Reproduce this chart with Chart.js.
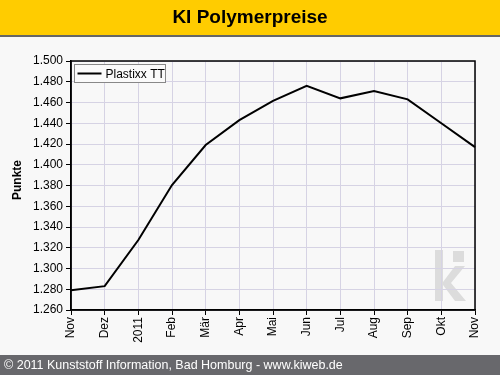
<!DOCTYPE html>
<html><head><meta charset="utf-8">
<script src="https://cdn.jsdelivr.net/npm/chart.js@4/dist/chart.umd.min.js"></script>
<style>
html,body{margin:0;padding:0;background:#f8f8f8;}
#wrap{position:relative;width:500px;height:375px;}
canvas{display:block;}
</style></head>
<body><div id="wrap"><canvas id="c" width="500" height="375"></canvas></div>
<script>
const chartTitle = "KI Polymerpreise";
const footerText = "© 2011 Kunststoff Information, Bad Homburg - www.kiweb.de";
const yAxisTitle = "Punkte";
const seriesName = "Plastixx TT";
const categories = ["Nov","Dez","2011","Feb","Mär","Apr","Mai","Jun","Jul","Aug","Sep","Okt","Nov"];
const values = [1279, 1283, 1327.5, 1380.5, 1419, 1443, 1461.5, 1476, 1464, 1471, 1463, 1440, 1417];
const yMin = 1260, yMax = 1500, yStep = 20;

const FONT = "'Liberation Sans', Arial, sans-serif";

const decor = {
  id: 'decor',
  beforeDraw(chart) {
    const ctx = chart.ctx, a = chart.chartArea;
    ctx.save();
    ctx.fillStyle = '#f8f8f8';
    ctx.fillRect(0, 0, 500, 375);
    // title bar
    ctx.fillStyle = '#ffcc00';
    ctx.fillRect(0, 0, 500, 35);
    ctx.fillStyle = '#666666';
    ctx.fillRect(0, 35, 500, 2);
    ctx.fillStyle = '#000';
    ctx.font = "bold 19px " + FONT;
    ctx.textAlign = 'center';
    ctx.textBaseline = 'middle';
    ctx.fillText(chartTitle, 250, 18);
    // footer
    ctx.fillStyle = '#68686c';
    ctx.fillRect(0, 355, 500, 20);
    ctx.fillStyle = '#fff';
    ctx.font = "12.5px " + FONT;
    ctx.textAlign = 'left';
    ctx.fillText(footerText, 4, 366);
    // y axis title
    ctx.save();
    ctx.translate(18, 180);
    ctx.rotate(-Math.PI / 2);
    ctx.fillStyle = '#000';
    ctx.font = "bold 12px " + FONT;
    ctx.textAlign = 'center';
    ctx.textBaseline = 'middle';
    ctx.fillText(yAxisTitle, 0, 0);
    ctx.restore();
    // watermark "ki"
    ctx.fillStyle = '#dcdcdc';
    ctx.fillRect(435, 250, 8, 51);
    ctx.fillRect(453, 251, 11, 11);
    ctx.beginPath();
    ctx.moveTo(443, 282);
    ctx.lineTo(455, 266);
    ctx.lineTo(465, 266);
    ctx.lineTo(451, 283);
    ctx.lineTo(466, 301);
    ctx.lineTo(455, 301);
    ctx.lineTo(443, 285);
    ctx.closePath();
    ctx.fill();
    ctx.restore();
  },
  afterDatasetsDraw(chart) {
    const ctx = chart.ctx, a = chart.chartArea;
    ctx.save();
    // frame
    ctx.strokeStyle = '#000';
    ctx.lineWidth = 1.5;
    ctx.strokeRect(a.left, a.top, a.right - a.left, a.bottom - a.top);
    // legend
    const lx = a.left + 3.5, ly = a.top + 3.5, lw = 91, lh = 18;
    ctx.fillStyle = '#fafafa';
    ctx.fillRect(lx, ly, lw, lh);
    ctx.strokeStyle = '#888';
    ctx.lineWidth = 1;
    ctx.strokeRect(lx, ly, lw, lh);
    ctx.strokeStyle = '#000';
    ctx.lineWidth = 2;
    ctx.beginPath();
    ctx.moveTo(lx + 3, ly + lh / 2);
    ctx.lineTo(lx + 27, ly + lh / 2);
    ctx.stroke();
    ctx.fillStyle = '#000';
    ctx.font = "12px " + FONT;
    ctx.textAlign = 'left';
    ctx.textBaseline = 'middle';
    ctx.fillText(chart.data.datasets[0].label, lx + 31, ly + lh / 2 + 1);
    ctx.restore();
  }
};

new Chart(document.getElementById('c'), {
  type: 'line',
  data: {
    labels: categories,
    datasets: [{
      label: seriesName,
      data: values,
      borderColor: '#000',
      borderWidth: 2,
      pointRadius: 0,
      tension: 0,
      fill: false
    }]
  },
  options: {
    responsive: false,
    animation: false,
    devicePixelRatio: 1,
    layout: { padding: { top: 61, right: 25, bottom: 20, left: 0 } },
    plugins: { legend: { display: false }, tooltip: { enabled: false }, title: { display: false } },
    scales: {
      x: {
        offset: false,
        grid: { color: '#d6d3e4', tickColor: '#000', tickLength: 5, drawTicks: true },
        border: { color: '#000', width: 1.5 },
        ticks: {
          autoSkip: false, maxRotation: 90, minRotation: 90, padding: 2,
          color: '#000', font: { family: FONT, size: 12 }
        },
        afterFit(s) { s.height = 45; }
      },
      y: {
        min: yMin, max: yMax,
        grid: { color: '#d6d3e4', tickColor: '#000', tickLength: 5 },
        border: { color: '#000', width: 1.5 },
        ticks: {
          stepSize: yStep, padding: 3, color: '#000',
          font: { family: FONT, size: 12 },
          callback: v => (v / 1000).toFixed(3)
        },
        afterFit(s) { s.width = 71; }
      }
    }
  },
  plugins: [decor]
});
</script></body></html>
